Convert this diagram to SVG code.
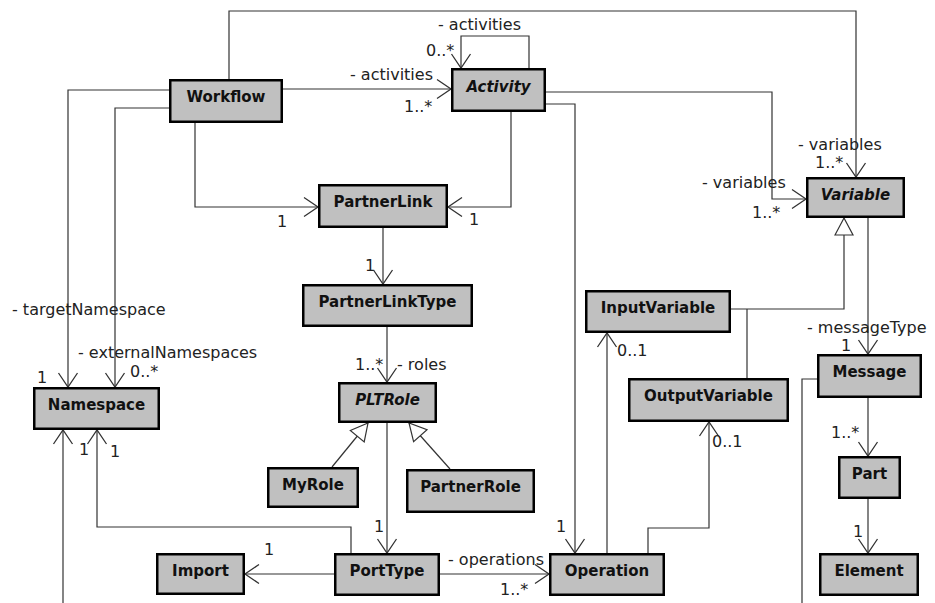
<svg xmlns="http://www.w3.org/2000/svg" width="935" height="603" viewBox="0 0 935 603">
<style>
.box rect{fill:#c0c0c0;stroke:#000;stroke-width:2.5}
.box text{font-family:"DejaVu Sans",sans-serif;font-weight:bold;font-size:15px;fill:#111;text-anchor:middle}
.box text.abs{font-style:italic}
.c{fill:none;stroke:#333;stroke-width:1.2}
.a{marker-end:url(#open)}
.g{marker-end:url(#gen)}
.lbl{font-family:"DejaVu Sans",sans-serif;font-size:16px;fill:#222}
</style>
<defs>
<marker id="open" markerUnits="userSpaceOnUse" markerWidth="20" markerHeight="22" refX="15" refY="10" orient="auto" overflow="visible">
<path d="M1,0.5 L15,10 L1,19.5" fill="none" stroke="#333" stroke-width="1.3"/>
</marker>
<marker id="gen" markerUnits="userSpaceOnUse" markerWidth="20" markerHeight="22" refX="17" refY="9" orient="auto" overflow="visible">
<path d="M0,0 L17,9 L0,18 Z" fill="#fff" stroke="#333" stroke-width="1.2"/>
</marker>
</defs>
<g id="connectors">
<polyline class="c a" points="229,79 229,11 856,11 856,177"/>
<polyline class="c a" points="283,89 451,89"/>
<polyline class="c a" points="529,68 529,36 461,36 461,68"/>
<polyline class="c a" points="546,92 772,92 772,199 806,199"/>
<polyline class="c a" points="546,104 575,104 575,553"/>
<polyline class="c a" points="511,112 511,207 448,207"/>
<polyline class="c a" points="195,123 195,207 318,207"/>
<polyline class="c a" points="169,90 68,90 68,387"/>
<polyline class="c a" points="169,108 115,108 115,387"/>
<polyline class="c a" points="383,228 383,284"/>
<polyline class="c a" points="387,327 387,382"/>
<polyline class="c g" points="332,467 368,423"/>
<polyline class="c g" points="450,469 409,423"/>
<polyline class="c a" points="387,423 387,553"/>
<polyline class="c a" points="351,553 351,527 97,527 97,430"/>
<polyline class="c a" points="63,603 63,430"/>
<polyline class="c a" points="334,574 245,574"/>
<polyline class="c a" points="440,574 549,574"/>
<polyline class="c a" points="607,553 607,333"/>
<polyline class="c a" points="648,553 648,528 709,528 709,422"/>
<polyline class="c" points="747,378 747,309"/>
<polyline class="c g" points="731,309 844,309 844,218"/>
<polyline class="c a" points="868,218 868,354"/>
<polyline class="c" points="817,379 802,379 802,603"/>
<polyline class="c a" points="868,398 868,456"/>
<polyline class="c a" points="868,499 868,553"/>
</g>
<g id="labels" class="lbl">
<text class="lbl" x="438" y="30">- activities</text>
<text class="lbl" x="426" y="56">0..*</text>
<text class="lbl" x="350" y="80">- activities</text>
<text class="lbl" x="404" y="112">1..*</text>
<text class="lbl" x="798" y="150">- variables</text>
<text class="lbl" x="815" y="168">1..*</text>
<text class="lbl" x="702" y="188">- variables</text>
<text class="lbl" x="752" y="218">1..*</text>
<text class="lbl" x="277" y="227">1</text>
<text class="lbl" x="469" y="225">1</text>
<text class="lbl" x="365" y="271">1</text>
<text class="lbl" x="355" y="370">1..*</text>
<text class="lbl" x="397" y="370">- roles</text>
<text class="lbl" x="12" y="315">- targetNamespace</text>
<text class="lbl" x="78" y="358">- externalNamespaces</text>
<text class="lbl" x="37" y="383">1</text>
<text class="lbl" x="130" y="377">0..*</text>
<text class="lbl" x="79" y="455">1</text>
<text class="lbl" x="110" y="457">1</text>
<text class="lbl" x="264" y="555">1</text>
<text class="lbl" x="374" y="532">1</text>
<text class="lbl" x="556" y="532">1</text>
<text class="lbl" x="448" y="565">- operations</text>
<text class="lbl" x="500" y="595">1..*</text>
<text class="lbl" x="617" y="356">0..1</text>
<text class="lbl" x="712" y="447">0..1</text>
<text class="lbl" x="807" y="333">- messageType</text>
<text class="lbl" x="841" y="351">1</text>
<text class="lbl" x="831" y="438">1..*</text>
<text class="lbl" x="853" y="537">1</text>
</g>
<g id="Workflow" class="box"><rect x="170.25" y="80.25" width="111.5" height="41.5"/><text x="226" y="102">Workflow</text></g>
<g id="Activity" class="box"><rect x="452.25" y="69.25" width="92.5" height="41.5"/><text class="abs" x="498.5" y="92">Activity</text></g>
<g id="PartnerLink" class="box"><rect x="319.25" y="185.25" width="127.5" height="41.5"/><text x="383" y="207">PartnerLink</text></g>
<g id="PartnerLinkType" class="box"><rect x="303.25" y="285.25" width="168.5" height="40.5"/><text x="387.5" y="307">PartnerLinkType</text></g>
<g id="PLTRole" class="box"><rect x="339.25" y="383.25" width="96.5" height="38.5"/><text class="abs" x="387.5" y="405">PLTRole</text></g>
<g id="MyRole" class="box"><rect x="268.25" y="468.25" width="89.5" height="38.5"/><text x="313" y="490">MyRole</text></g>
<g id="PartnerRole" class="box"><rect x="407.25" y="470.25" width="126.5" height="41.5"/><text x="470.5" y="492">PartnerRole</text></g>
<g id="PortType" class="box"><rect x="335.25" y="554.25" width="103.5" height="40.5"/><text x="387" y="576">PortType</text></g>
<g id="Import" class="box"><rect x="157.25" y="554.25" width="86.5" height="39.5"/><text x="200.5" y="576">Import</text></g>
<g id="Operation" class="box"><rect x="550.25" y="554.25" width="113.5" height="40.5"/><text x="607" y="576">Operation</text></g>
<g id="Namespace" class="box"><rect x="34.25" y="388.25" width="124.5" height="40.5"/><text x="96.5" y="410">Namespace</text></g>
<g id="Variable" class="box"><rect x="807.25" y="178.25" width="96.5" height="38.5"/><text class="abs" x="855.5" y="200">Variable</text></g>
<g id="InputVariable" class="box"><rect x="586.25" y="291.25" width="143.5" height="40.5"/><text x="658" y="313">InputVariable</text></g>
<g id="OutputVariable" class="box"><rect x="629.25" y="379.25" width="158.5" height="41.5"/><text x="708.5" y="401">OutputVariable</text></g>
<g id="Message" class="box"><rect x="818.25" y="355.25" width="102.5" height="41.5"/><text x="869.5" y="377">Message</text></g>
<g id="Part" class="box"><rect x="839.25" y="457.25" width="60.5" height="40.5"/><text x="869.5" y="479">Part</text></g>
<g id="Element" class="box"><rect x="820.25" y="554.25" width="97.5" height="40.5"/><text x="869" y="576">Element</text></g>
</svg>
